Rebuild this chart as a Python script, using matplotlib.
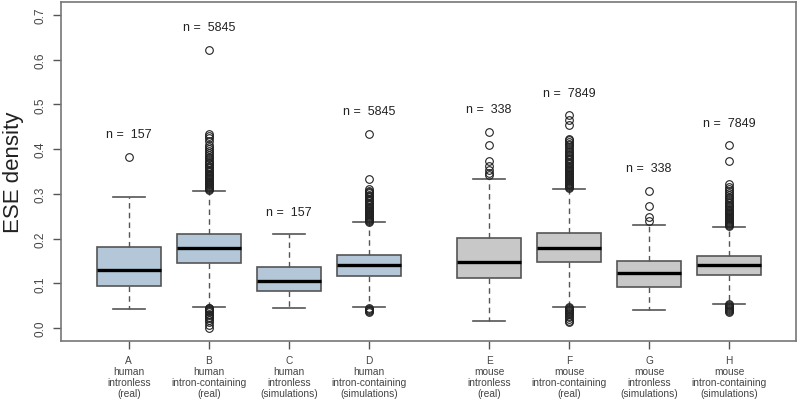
import matplotlib
matplotlib.use("Agg")
import matplotlib.pyplot as plt

plt.rcParams["font.family"] = ["Liberation Sans", "DejaVu Sans"]

# box statistics (ESE density)
labels = ["A\nhuman\nintronless\n(real)",
          "B\nhuman\nintron-containing\n(real)",
          "C\nhuman\nintronless\n(simulations)",
          "D\nhuman\nintron-containing\n(simulations)",
          "E\nmouse\nintronless\n(real)",
          "F\nmouse\nintron-containing\n(real)",
          "G\nmouse\nintronless\n(simulations)",
          "H\nmouse\nintron-containing\n(simulations)"]
counts = [157, 5845, 157, 5845, 338, 7849, 338, 7849]
positions = [1, 2, 3, 4, 5.5, 6.5, 7.5, 8.5]

whislo = [0.042, 0.048, 0.045, 0.047, 0.015, 0.048, 0.041, 0.054]
q1 = [0.094, 0.145, 0.084, 0.117, 0.112, 0.147, 0.092, 0.119]
med = [0.131, 0.179, 0.105, 0.141, 0.148, 0.180, 0.123, 0.140]
q3 = [0.181, 0.210, 0.136, 0.164, 0.201, 0.213, 0.150, 0.162]
whishi = [0.294, 0.307, 0.210, 0.236, 0.334, 0.311, 0.231, 0.227]

outliers = [
    [0.383],
    [0.0, 0.008, 0.013, 0.018, 0.022, 0.026, 0.029, 0.032, 0.035, 0.038,
     0.040, 0.042, 0.044, 0.046,
     0.309, 0.311, 0.313, 0.315, 0.317, 0.319, 0.321, 0.323, 0.325, 0.327,
     0.329, 0.331, 0.333, 0.335, 0.337, 0.339, 0.341, 0.343, 0.345, 0.348,
     0.351, 0.354, 0.357, 0.36, 0.363, 0.366, 0.369, 0.372, 0.375, 0.379,
     0.383, 0.387, 0.391, 0.395, 0.40, 0.405, 0.41, 0.418, 0.425, 0.43,
     0.434, 0.622],
    [],
    [0.037, 0.039, 0.041, 0.043, 0.045,
     0.238, 0.240, 0.242, 0.244, 0.246, 0.248, 0.250, 0.252, 0.254, 0.256,
     0.258, 0.260, 0.262, 0.264, 0.266, 0.268, 0.271, 0.274, 0.277, 0.280,
     0.283, 0.286, 0.289, 0.292, 0.295, 0.298, 0.301, 0.304, 0.307, 0.31,
     0.333, 0.434],
    [0.341, 0.347, 0.354, 0.362, 0.374, 0.41, 0.439],
    [0.013, 0.016, 0.02, 0.024, 0.028, 0.031, 0.034, 0.037, 0.039, 0.041,
     0.043, 0.045, 0.047,
     0.313, 0.315, 0.317, 0.319, 0.321, 0.323, 0.325, 0.327, 0.329, 0.331,
     0.333, 0.335, 0.337, 0.339, 0.341, 0.343, 0.345, 0.347, 0.349, 0.351,
     0.353, 0.355, 0.357, 0.36, 0.363, 0.366, 0.369, 0.372, 0.375, 0.378,
     0.381, 0.384, 0.387, 0.39, 0.393, 0.396, 0.40, 0.404, 0.408, 0.412,
     0.416, 0.42, 0.423, 0.453, 0.464, 0.475],
    [0.240, 0.249, 0.272, 0.307],
    [0.037, 0.039, 0.041, 0.043, 0.045, 0.047, 0.049, 0.051, 0.053,
     0.229, 0.231, 0.233, 0.235, 0.237, 0.239, 0.241, 0.243, 0.245, 0.247,
     0.249, 0.251, 0.253, 0.255, 0.257, 0.259, 0.261, 0.264, 0.267, 0.27,
     0.273, 0.276, 0.279, 0.282, 0.286, 0.29, 0.294, 0.298, 0.302, 0.306,
     0.31, 0.315, 0.322, 0.374, 0.408],
]

human_col = "#b3c7d9"
mouse_col = "#c8c8c8"
edge = "#555555"

stats = []
for i in range(len(labels)):
    stats.append(dict(whislo=whislo[i], q1=q1[i], med=med[i], q3=q3[i],
                      whishi=whishi[i], fliers=outliers[i]))

fig = plt.figure(figsize=(8, 4.02), dpi=100)
ax = fig.add_axes([0.0766, 0.15, 0.918, 0.842])

bp = ax.bxp(stats, positions=positions, widths=0.8, patch_artist=True,
            boxprops=dict(edgecolor=edge, linewidth=1.2),
            medianprops=dict(color="black", linewidth=2.4),
            whiskerprops=dict(color=edge, linestyle=(0, (4, 3)), linewidth=1.0),
            capprops=dict(color=edge, linewidth=1.2),
            capwidths=0.4,
            flierprops=dict(marker="o", markersize=5.5, markerfacecolor="none",
                            markeredgecolor="#222222", markeredgewidth=0.8))
for i, box in enumerate(bp["boxes"]):
    box.set_facecolor(human_col if i < 4 else mouse_col)

for i, p in enumerate(positions):
    top = max([whishi[i]] + outliers[i])
    ax.text(p, top + 0.05, "n =  %d" % counts[i], ha="center", va="center",
            fontsize=9, color="#222222")

ax.set_xlim(0.157, 9.33)
ax.set_ylim(-0.028, 0.728)
ax.set_yticks([0.0, 0.1, 0.2, 0.3, 0.4, 0.5, 0.6, 0.7])
ax.set_yticklabels(["0.0", "0.1", "0.2", "0.3", "0.4", "0.5", "0.6", "0.7"],
                   rotation=90, va="center", fontsize=8.5, color="#444444")
ax.set_xticks(positions)
ax.set_xticklabels(labels, fontsize=7.3, color="#444444", linespacing=1.16)
ax.tick_params(axis="both", color=edge, length=6, width=1.0)
ax.tick_params(axis="x", pad=4)
ax.tick_params(axis="y", pad=5)
for s in ax.spines.values():
    s.set_color("#777777")
    s.set_linewidth(1.2)
ax.set_ylabel("ESE density", fontsize=16, color="#222222", labelpad=7)

fig.savefig("out.png", dpi=100)
